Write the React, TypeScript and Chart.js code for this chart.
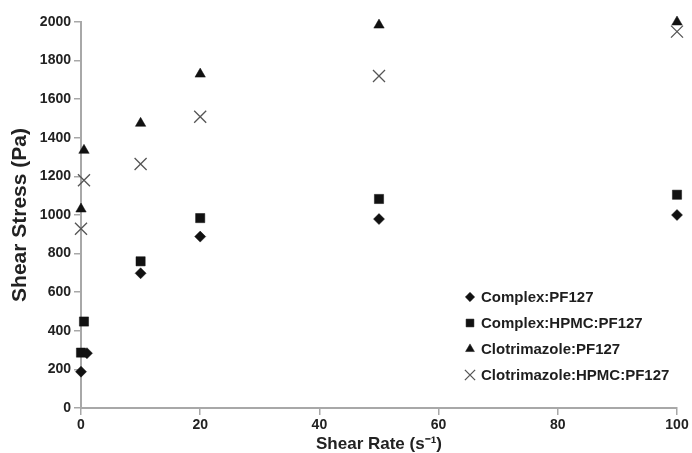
import React, { useEffect, useRef } from 'react';
import { Chart, registerables } from 'chart.js';
import { drawPoint } from 'chart.js/helpers';

Chart.register(...registerables);

const seriesNames = [
  'Complex:PF127',
  'Complex:HPMC:PF127',
  'Clotrimazole:PF127',
  'Clotrimazole:HPMC:PF127',
];

const xComplex = [0, 1, 10, 20, 50, 100];
const yComplex = [188, 284, 698, 888, 979, 1000];

const xComplexHpmc = [0, 0.5, 10, 20, 50, 100];
const yComplexHpmc = [287, 448, 760, 984, 1083, 1105];

const xClot = [0, 0.5, 10, 20, 50, 100];
const yClot = [1031, 1335, 1475, 1730, 1984, 2000];

const xClotHpmc = [0, 0.5, 10, 20, 50, 100];
const yClotHpmc = [929, 1180, 1264, 1509, 1720, 1950];

const xTicks = [0, 20, 40, 60, 80, 100];
const yTicks = [0, 200, 400, 600, 800, 1000, 1200, 1400, 1600, 1800, 2000];

const toPoints = (xs: number[], ys: number[]) => xs.map((x, i) => ({ x, y: ys[i] }));

const FONT = 'Liberation Sans, Arial, Helvetica, sans-serif';

const insideLegend = {
  id: 'insideLegend',
  afterDraw(chart: any) {
    const { ctx, chartArea } = chart;
    ctx.save();
    const x0 = chartArea.right - 207;
    const y0 = chartArea.bottom - 111;
    chart.data.datasets.forEach((ds: any, i: number) => {
      const y = y0 + i * 26;
      ctx.fillStyle = ds.backgroundColor;
      ctx.strokeStyle = ds.borderColor;
      ctx.lineWidth = ds.borderWidth;
      drawPoint(
        ctx,
        { pointStyle: ds.pointStyle, radius: ds.pointRadius * 0.85, rotation: 0, borderWidth: ds.borderWidth },
        x0,
        y
      );
      ctx.fillStyle = '#1e1e1e';
      ctx.font = `bold 15px ${FONT}`;
      ctx.textBaseline = 'middle';
      ctx.textAlign = 'left';
      ctx.fillText(ds.label, x0 + 11, y + 1);
    });
    ctx.restore();
  },
};

export default function App() {
  const canvasRef = useRef<HTMLCanvasElement | null>(null);

  useEffect(() => {
    if (!canvasRef.current) return;
    const gridCfg = {
      drawOnChartArea: false,
      drawTicks: true,
      tickLength: 7,
      color: '#a8a8a8',
      lineWidth: 1.5,
    };
    const borderCfg = { display: true, color: '#a8a8a8', width: 2 };
    const common = {
      backgroundColor: '#111',
      borderColor: '#111',
      borderWidth: 0.5,
      clip: false,
    };
    const chart = new Chart(canvasRef.current, {
      type: 'scatter',
      data: {
        datasets: [
          {
            ...common,
            label: seriesNames[0],
            data: toPoints(xComplex, yComplex),
            pointStyle: 'rectRot',
            pointRadius: 5.5,
          },
          {
            ...common,
            label: seriesNames[1],
            data: toPoints(xComplexHpmc, yComplexHpmc),
            pointStyle: 'rect',
            pointRadius: 6.5,
          },
          {
            ...common,
            label: seriesNames[2],
            data: toPoints(xClot, yClot),
            pointStyle: 'triangle',
            pointRadius: 6,
          },
          {
            ...common,
            label: seriesNames[3],
            data: toPoints(xClotHpmc, yClotHpmc),
            pointStyle: 'crossRot',
            pointRadius: 8.5,
            backgroundColor: '#555',
            borderColor: '#555',
            borderWidth: 1.3,
          },
        ] as any,
      },
      options: {
        animation: false,
        responsive: true,
        maintainAspectRatio: false,
        layout: { padding: { top: 22, right: 15, left: 0, bottom: 0 } },
        plugins: {
          legend: { display: false },
          tooltip: { enabled: false },
        },
        scales: {
          x: {
            type: 'linear',
            min: 0,
            max: 100,
            afterBuildTicks: (scale: any) => {
              scale.ticks = xTicks.map((v) => ({ value: v }));
            },
            afterFit: (scale: any) => {
              scale.height = 45;
            },
            ticks: {
              font: { family: FONT, size: 14, weight: 'bold' },
              color: '#222',
              padding: 2,
              maxRotation: 0,
              callback: (v: any) => String(v),
            },
            grid: gridCfg,
            border: borderCfg,
            title: {
              display: true,
              text: 'Shear Rate (s\u207B\u00B9)',
              font: { family: FONT, size: 17, weight: 'bold', lineHeight: 1 },
              color: '#222',
              padding: { top: 0, bottom: 0 },
            },
          },
          y: {
            type: 'linear',
            min: 0,
            max: 2000,
            afterBuildTicks: (scale: any) => {
              scale.ticks = yTicks.map((v) => ({ value: v }));
            },
            afterFit: (scale: any) => {
              scale.width = 81;
            },
            ticks: {
              font: { family: FONT, size: 14, weight: 'bold' },
              color: '#222',
              padding: 3,
              callback: (v: any) => String(v),
            },
            grid: gridCfg,
            border: borderCfg,
            title: {
              display: true,
              text: 'Shear Stress (Pa)',
              font: { family: FONT, size: 21, weight: 'bold', lineHeight: 1 },
              color: '#222',
              padding: { top: 10, bottom: 0 },
            },
          },
        },
      } as any,
      plugins: [insideLegend],
    });
    return () => chart.destroy();
  }, []);

  return (
    <div style={{ position: 'fixed', left: 0, top: 0, width: 692, height: 453, background: '#fff' }}>
      <canvas ref={canvasRef} />
    </div>
  );
}
